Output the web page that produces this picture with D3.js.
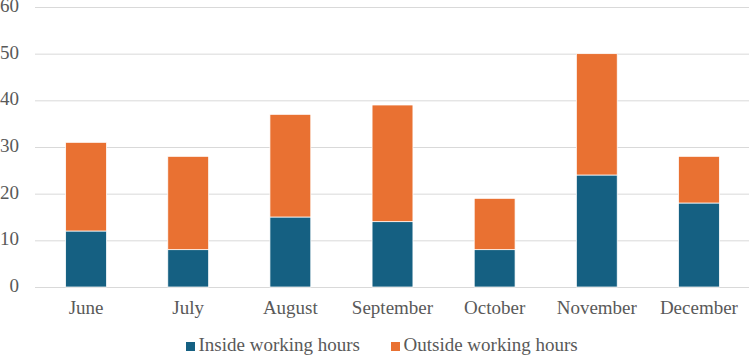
<!DOCTYPE html>
<html><head><meta charset="utf-8">
<script src="https://cdn.jsdelivr.net/npm/d3@7"></script>
<style>
body{margin:0;background:#fff}
svg{display:block}
svg text{font-family:"Liberation Serif","Times New Roman",Tinos,serif;font-size:19px;fill:#595959}
</style>
</head><body><svg id="c" width="750" height="356" font-family="Liberation Serif"></svg>
<script>
const months = ["June","July","August","September","October","November","December"];
const inside = [12,8,15,14,8,24,18];
const outside = [19,20,22,25,11,26,10];
const yTicks = [0,10,20,30,40,50,60];
const seriesNames = ["Inside working hours","Outside working hours"];
const colors = ["#156082","#E97132"];

const svg = d3.select("#c");
const m = {l:35, r:0, t:7, b:69};
const W = 750, H = 356;
const x = d3.scaleBand().domain(months).range([m.l, W - m.r]).paddingInner(0.6).paddingOuter(0.3);
const y = d3.scaleLinear().domain([0,60]).range([H - m.b, m.t]);

const data = months.map((mo,i)=>({month:mo, inside:inside[i], outside:outside[i]}));
const stack = d3.stack().keys(["inside","outside"])(data);

svg.append("g").selectAll("line").data(yTicks).join("line")
  .attr("x1", m.l).attr("x2", W - 1)
  .attr("y1", d=>y(d)+0.5).attr("y2", d=>y(d)+0.5)
  .attr("stroke", "#d9d9d9").attr("stroke-width", 1);

svg.append("g").selectAll("text").data(yTicks).join("text")
  .attr("x", 19).attr("y", d=>y(d)+5)
  .attr("text-anchor","end")
  .text(d=>d);

svg.append("g").selectAll("g").data(stack).join("g")
  .attr("fill",(d,i)=>colors[i])
  .selectAll("rect").data(d=>d).join("rect")
  .attr("x", d=>x(d.data.month)).attr("width", x.bandwidth())
  .attr("y", d=>y(d[1])).attr("height", d=>y(d[0])-y(d[1]))
  .attr("stroke","#ffffff").attr("stroke-width",0.75);

svg.append("g").selectAll("text").data(months).join("text")
  .attr("x", d=>x(d)+x.bandwidth()/2).attr("y", 314)
  .attr("text-anchor","middle")
  .text(d=>d);

const legX = [186, 391];
const leg = svg.append("g").selectAll("g").data(seriesNames).join("g")
  .attr("transform",(d,i)=>`translate(${legX[i]},351)`);
leg.append("rect").attr("x",0).attr("y",-9).attr("width",9).attr("height",9).attr("fill",(d,i)=>colors[i]);
leg.append("text").attr("x",12.5).attr("y",0).text(d=>d);
</script></body></html>
